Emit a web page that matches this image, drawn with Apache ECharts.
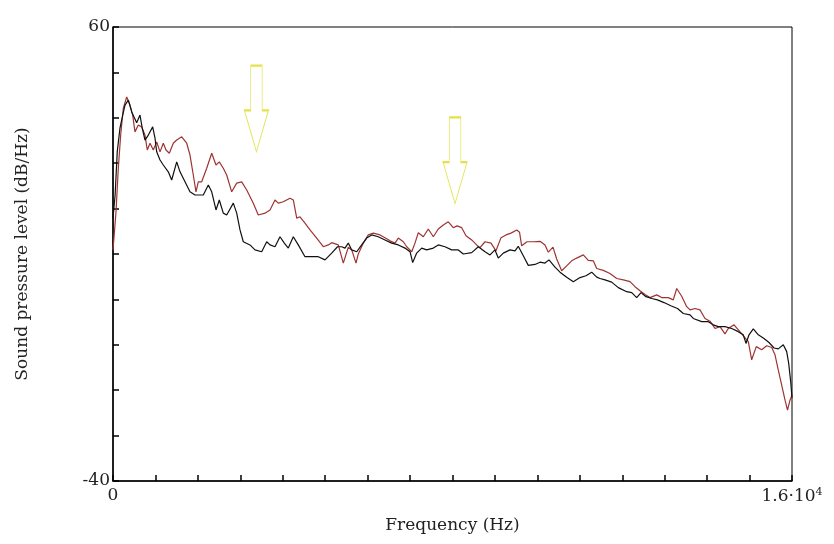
<!DOCTYPE html>
<html>
<head>
<meta charset="utf-8">
<script src="https://cdn.jsdelivr.net/npm/echarts@6/dist/echarts.min.js"></script>
<style>
    html, body {margin: 0; padding: 0; background: #fff;}
    #spectrum {width: 834px; height: 544px;}
</style>
</head>
<body>
<div id="spectrum"></div>
<script>
// values: frequency in Hz, level in dB/Hz
const black_freq = [0, 50, 100, 165, 229, 283, 361, 441, 495, 558, 636, 690, 754, 832, 935, 990, 1030, 1108, 1185, 1303,
    1383, 1501, 1579, 1697, 1814, 1932, 2128, 2246, 2326, 2427, 2505, 2599, 2679, 2835, 2915, 2993, 3070, 3228, 3346, 3504,
    3622, 3700, 3817, 3935, 4037, 4131, 4249, 4366, 4524, 4689, 4838, 4996, 5153, 5290, 5389, 5467, 5545, 5625, 5743, 5860,
    5978, 6096, 6251, 6409, 6567, 6723, 6881, 6999, 7062, 7156, 7274, 7392, 7548, 7665, 7823, 7981, 8137, 8255, 8452, 8608,
    8766, 8884, 9001, 9079, 9197, 9355, 9473, 9550, 9668, 9786, 9944, 10062, 10180, 10274, 10415, 10533, 10691, 10847, 11004, 11146,
    11280, 11398, 11476, 11593, 11751, 11907, 12105, 12223, 12340, 12442, 12560, 12694, 12830, 12984, 13144, 13302, 13439, 13597, 13674, 13872,
    14028, 14146, 14263, 14421, 14579, 14734, 14852, 14916, 14987, 15088, 15206, 15340, 15458, 15576, 15677, 15795, 15875, 15922, 15971, 16000];
const black_db = [17.9, 23.0, 32.5, 37.8, 40.6, 42.8, 43.9, 41.3, 40.2, 38.9, 40.6, 37.7, 35.1, 36.2, 38.0, 35.5, 32.5, 30.7, 29.6, 28.1,
    26.3, 30.3, 28.1, 25.9, 23.7, 23.0, 23.0, 25.2, 23.7, 19.7, 21.9, 19.0, 18.6, 21.2, 19.0, 15.3, 12.7, 12.0, 10.9, 10.5,
    12.7, 12.0, 11.6, 13.8, 12.4, 11.3, 13.8, 12.0, 9.4, 9.4, 9.4, 8.7, 10.2, 11.6, 11.6, 11.3, 12.4, 10.9, 10.5, 12.0,
    13.5, 14.2, 13.8, 13.1, 12.4, 12.0, 11.3, 10.5, 8.1, 10.2, 11.3, 10.9, 11.3, 12.0, 11.6, 10.9, 10.9, 10.0, 10.3, 11.6,
    10.5, 9.8, 10.9, 9.1, 10.2, 10.9, 10.7, 11.7, 9.6, 7.5, 7.7, 8.2, 8.0, 8.7, 7.1, 6.0, 4.9, 3.9, 4.8, 5.2,
    6.0, 4.9, 4.6, 4.3, 3.8, 2.6, 1.7, 1.5, 0.4, 1.5, 0.6, 0.2, -0.1, -0.7, -1.4, -2.0, -3.1, -3.4, -4.2, -4.9,
    -4.9, -5.6, -6.0, -6.0, -6.4, -7.1, -7.8, -9.7, -7.8, -6.5, -7.8, -8.6, -9.5, -10.7, -10.9, -10.0, -11.5, -14.1, -18.3, -21.7];

const red_freq = [0, 71, 125, 181, 243, 323, 401, 464, 518, 596, 676, 754, 808, 872, 950, 1030, 1108, 1185, 1249, 1327,
    1421, 1501, 1619, 1737, 1814, 1892, 1956, 2010, 2090, 2208, 2326, 2427, 2505, 2599, 2679, 2797, 2915, 3033, 3151, 3306,
    3424, 3582, 3700, 3817, 3895, 4013, 4171, 4249, 4329, 4406, 4524, 4642, 4800, 4955, 5073, 5153, 5309, 5427, 5545, 5625,
    5726, 5780, 5898, 6016, 6134, 6292, 6409, 6527, 6645, 6723, 6841, 6921, 7039, 7116, 7194, 7312, 7430, 7548, 7665, 7783,
    7901, 8019, 8106, 8217, 8318, 8452, 8570, 8648, 8766, 8907, 9025, 9143, 9261, 9378, 9513, 9579, 9630, 9755, 9904, 10062,
    10180, 10258, 10368, 10455, 10573, 10691, 10809, 10927, 11082, 11200, 11318, 11398, 11553, 11711, 11869, 12025, 12183, 12300, 12418, 12536,
    12654, 12812, 12929, 13085, 13203, 13283, 13401, 13519, 13597, 13714, 13832, 13950, 14067, 14185, 14303, 14421, 14499, 14633, 14751, 14869,
    14970, 15050, 15158, 15286, 15404, 15522, 15600, 15677, 15757, 15836, 15894, 15953, 16000];
const red_db = [10.9, 19.3, 28.9, 36.2, 42.1, 44.6, 42.8, 40.6, 36.9, 38.4, 38.0, 36.2, 32.9, 34.4, 32.9, 34.7, 32.5, 34.4, 32.9, 32.2,
    34.4, 35.1, 35.8, 34.4, 31.8, 27.4, 23.7, 25.9, 25.9, 28.9, 32.2, 29.6, 30.3, 28.9, 27.4, 23.7, 25.6, 25.9, 24.1, 21.2,
    18.6, 19.0, 19.7, 21.9, 21.2, 21.5, 22.3, 21.9, 17.9, 18.2, 16.8, 15.3, 13.5, 11.6, 12.0, 12.5, 12.0, 8.0, 11.5, 10.9,
    8.0, 10.0, 12.4, 14.2, 14.6, 14.2, 13.6, 12.9, 12.4, 13.5, 12.7, 11.6, 10.5, 12.4, 14.7, 13.8, 15.5, 13.8, 15.5, 16.4,
    17.1, 15.8, 16.2, 15.8, 14.0, 13.1, 12.0, 11.4, 12.7, 12.4, 10.7, 13.6, 14.2, 14.6, 15.3, 14.8, 11.8, 12.7, 12.7, 12.8,
    12.0, 10.4, 11.5, 8.9, 6.3, 7.4, 8.5, 9.1, 9.8, 8.6, 8.5, 6.8, 6.4, 5.7, 4.6, 4.3, 3.9, 2.8, 1.9, 1.1,
    0.4, 1.0, 0.4, 0.4, -0.1, 2.4, 0.7, -1.6, -2.3, -2.0, -2.3, -4.2, -4.8, -6.4, -6.0, -7.6, -6.4, -5.6, -6.9, -8.2,
    -9.3, -13.3, -10.4, -11.1, -10.2, -10.6, -12.2, -15.6, -18.9, -22.2, -24.4, -22.2, -21.1];

// the two yellow arrows (centre of each arrow, in data units)
const arrow_freq = [3380, 8060];
const arrow_db = [42.0, 30.6];

const font = 'DejaVu Serif';

function zip(xs, ys) {
    return xs.map((x, i) => [x, ys[i]]);
}

function gen_line_series(name, data, color) {
    return {
        name: name,
        type: 'line',
        data: data,
        showSymbol: false,
        silent: true,
        lineStyle: {color: color, width: 1.2},
        itemStyle: {color: color},
    };
}

let chart = echarts.init(document.getElementById('spectrum'));

let red_series = gen_line_series('red', zip(red_freq, red_db), '#9e3432');
red_series.markPoint = {
    symbol: 'path://M6,0 L17,0 L17,52 L23,52 L11.5,100 L0,52 L6,52 Z',
    symbolKeepAspect: false,
    label: {show: false},
    itemStyle: {color: '#ffffff', borderColor: '#e4e24a', borderWidth: 1.2},
    data: arrow_freq.map((f, i) => ({coord: [f, arrow_db[i]], symbolSize: [24, 86]})),
};

let option = {
    animation: false,
    backgroundColor: '#ffffff',
    grid: {left: 113, right: 42, top: 27, bottom: 63, show: true, borderColor: '#000', borderWidth: 1},
    xAxis: {
        type: 'value',
        min: 0,
        max: 16000,
        interval: 1000,
        name: 'Frequency (Hz)',
        nameLocation: 'middle',
        nameGap: 36,
        nameTextStyle: {color: '#222', fontFamily: font, fontSize: 17},
        axisLine: {onZero: false, lineStyle: {color: '#000', width: 1.5}},
        axisTick: {inside: true, length: 6, lineStyle: {color: '#000', width: 1.5}},
        splitLine: {show: false},
        axisLabel: {
            interval: 0,
            margin: 6,
            color: '#222',
            fontFamily: font,
            fontSize: 17,
            formatter: function (value) {
                if (value === 0) return '0';
                if (value === 16000) return '{a|1.6·10}{s|4}';
                return '';
            },
            rich: {
                a: {fontFamily: font, fontSize: 17, color: '#222'},
                s: {fontFamily: font, fontSize: 11, color: '#222', verticalAlign: 'top', padding: [0, 0, 8, 0]},
            },
        },
    },
    yAxis: {
        type: 'value',
        min: -40,
        max: 60,
        interval: 10,
        name: 'Sound pressure level (dB/Hz)',
        nameLocation: 'middle',
        nameGap: 82,
        nameTextStyle: {color: '#222', fontFamily: font, fontSize: 17},
        axisLine: {show: true, onZero: false, lineStyle: {color: '#000', width: 1.5}},
        axisTick: {show: true, inside: true, length: 6, lineStyle: {color: '#000', width: 1.5}},
        splitLine: {show: false},
        axisLabel: {
            margin: 3,
            color: '#222',
            fontFamily: font,
            fontSize: 17,
            formatter: function (value) {
                return (value === 60 || value === -40) ? String(value) : '';
            },
        },
    },
    series: [red_series, gen_line_series('black', zip(black_freq, black_db), '#111111')],
};

chart.setOption(option);
</script>
</body>
</html>
